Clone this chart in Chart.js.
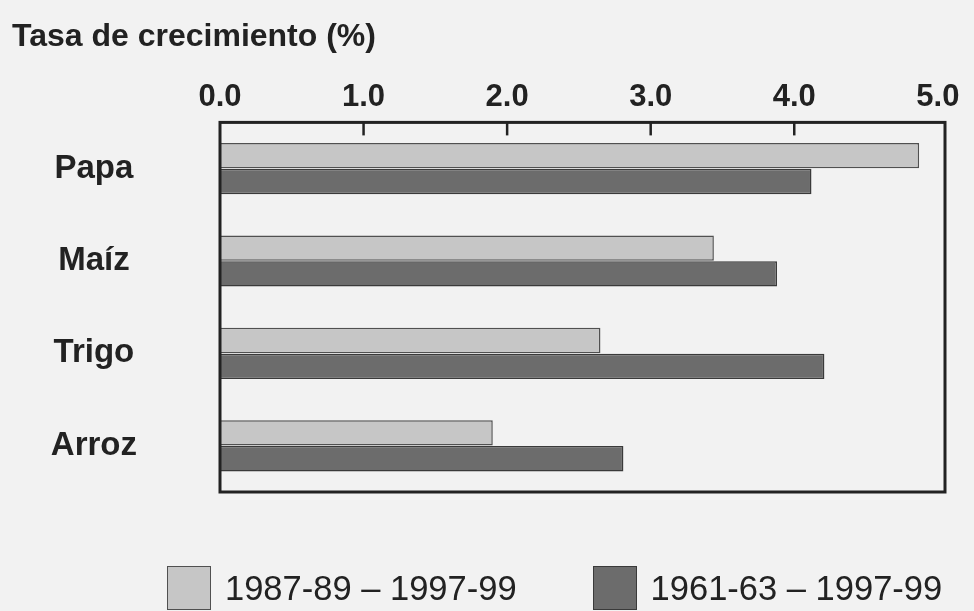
<!DOCTYPE html>
<html>
<head>
<meta charset="utf-8">
<script src="https://cdn.jsdelivr.net/npm/chart.js@4"></script>
<style>
  html, body { margin: 0; padding: 0; background: #f2f2f2; }
  #wrap { position: relative; width: 974px; height: 611px; overflow: hidden; }
  #legend { position: absolute; left: 167px; top: 565px; width: 807px; display: flex; white-space: nowrap; font-family: "Liberation Sans", Arial, sans-serif; font-size: 34.5px; color: #222; }
  .item { display: flex; align-items: center; margin-right: 76px; height: 46px; flex: none; }
  .box { width: 44px; height: 44px; margin-right: 14px; box-sizing: border-box; flex: none; }
</style>
</head>
<body>
<div id="wrap">
  <canvas id="chart" width="974" height="611"></canvas>
  <div id="legend"></div>
</div>
<script>
// categorias y series
const categories = ["Papa", "Maíz", "Trigo", "Arroz"];
const periodLabels = ["1987-89 – 1997-99", "1961-63 – 1997-99"];
const growthRecent = [4.87, 3.44, 2.65, 1.90];
const growthLong = [4.12, 3.88, 4.21, 2.81];
const tickValues = [0, 1, 2, 3, 4, 5];

const frame = {
  id: "frame",
  afterDraw(chart) {
    const { ctx, chartArea: a } = chart;
    const x = chart.scales.x;
    ctx.save();
    ctx.strokeStyle = "#222";
    ctx.lineWidth = 3;
    ctx.strokeRect(a.left, a.top, a.right - a.left, a.bottom - a.top);
    ctx.lineWidth = 2.5;
    tickValues.slice(1, -1).forEach(v => {
      const px = x.getPixelForValue(v);
      ctx.beginPath();
      ctx.moveTo(px, a.top);
      ctx.lineTo(px, a.top + 13);
      ctx.stroke();
    });
    ctx.restore();
  }
};

const chart = new Chart(document.getElementById("chart"), {
  type: "bar",
  data: {
    labels: categories,
    datasets: [
      { label: periodLabels[0], data: growthRecent, backgroundColor: "#c6c6c6", borderColor: "#505050", borderWidth: 1.5, barPercentage: 0.98, categoryPercentage: 0.56 },
      { label: periodLabels[1], data: growthLong, backgroundColor: "#6c6c6c", borderColor: "#3a3a3a", borderWidth: 1.5, barPercentage: 0.98, categoryPercentage: 0.56 }
    ]
  },
  options: {
    indexAxis: "y",
    responsive: false,
    animation: false,
    layout: { padding: { left: 12, right: 29, top: 12, bottom: 119 } },
    plugins: {
      legend: { display: false },
      tooltip: { enabled: false },
      title: {
        display: true,
        text: "Tasa de crecimiento (%)",
        align: "start",
        color: "#222",
        font: { family: "Liberation Sans", size: 32, weight: "bold" },
        padding: { top: 6, bottom: 6 }
      }
    },
    scales: {
      x: {
        position: "top",
        min: 0,
        max: 5.05,
        afterBuildTicks: s => { s.ticks = tickValues.map(v => ({ value: v })); },
        afterFit: s => { s.height = 60; },
        grid: { display: false, drawTicks: false },
        border: { display: false },
        ticks: {
          padding: 6,
          color: "#222",
          font: { family: "Liberation Sans", size: 31, weight: "bold" },
          callback: v => v.toFixed(1)
        }
      },
      y: {
        afterFit: s => { s.width = 208; },
        grid: { display: false, drawTicks: false },
        border: { display: false },
        ticks: {
          crossAlign: "center",
          padding: 83,
          color: "#222",
          font: { family: "Liberation Sans", size: 33, weight: "bold" }
        }
      }
    }
  },
  plugins: [frame]
});

const legend = document.getElementById("legend");
chart.data.datasets.forEach(ds => {
  const item = document.createElement("div");
  item.className = "item";
  item.innerHTML = `<span class="box" style="background:${ds.backgroundColor};border:1.5px solid ${ds.borderColor}"></span><span>${ds.label}</span>`;
  legend.appendChild(item);
});
</script>
</body>
</html>
